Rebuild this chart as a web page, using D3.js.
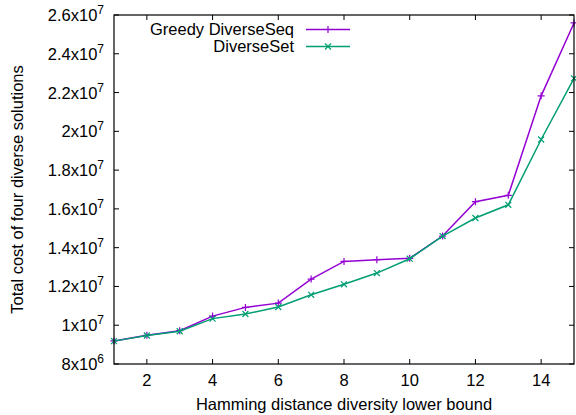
<!DOCTYPE html>
<html>
<head>
<meta charset="utf-8">
<script src="https://cdn.jsdelivr.net/npm/d3@7"></script>
<style>
  body { margin: 0; background: #fff; }
  text { font-family: "Liberation Sans", Arial, sans-serif; fill: #000; }
</style>
</head>
<body>
<div id="chart"></div>
<script>
const bounds = [1, 2, 3, 4, 5, 6, 7, 8, 9, 10, 11, 12, 13, 14, 15];
const greedySeq = [9.19e6, 9.48e6, 9.72e6, 1.047e7, 1.092e7, 1.114e7, 1.238e7, 1.329e7, 1.338e7, 1.345e7, 1.46e7, 1.637e7, 1.670e7, 2.183e7, 2.559e7];
const diverseSet = [9.18e6, 9.47e6, 9.69e6, 1.034e7, 1.058e7, 1.094e7, 1.157e7, 1.211e7, 1.269e7, 1.343e7, 1.46e7, 1.553e7, 1.621e7, 1.958e7, 2.273e7];
const xTicks = [2, 4, 6, 8, 10, 12, 14];
const yTicks = [8e6, 1e7, 1.2e7, 1.4e7, 1.6e7, 1.8e7, 2e7, 2.2e7, 2.4e7, 2.6e7];

const series = [
  { name: "Greedy DiverseSeq", values: greedySeq, color: "#9400d3", marker: "plus" },
  { name: "DiverseSet", values: diverseSet, color: "#009e73", marker: "cross" }
];

const W = 576, H = 415;
const margin = { top: 15, right: 2, bottom: 51, left: 114 };
const fs = 16.5;

const svg = d3.select("#chart").append("svg")
  .attr("width", W).attr("height", H);

const x = d3.scaleLinear().domain([1, 15]).range([margin.left, W - margin.right]);
const y = d3.scaleLinear().domain([8e6, 2.6e7]).range([H - margin.bottom, margin.top]);

// ticks, mirrored on all four sides, pointing inward
const tl = 5;
const tickG = svg.append("g").attr("stroke", "#000").attr("stroke-width", 1);
xTicks.forEach(t => {
  tickG.append("line").attr("x1", x(t)).attr("x2", x(t)).attr("y1", y.range()[0]).attr("y2", y.range()[0] - tl);
  tickG.append("line").attr("x1", x(t)).attr("x2", x(t)).attr("y1", y.range()[1]).attr("y2", y.range()[1] + tl);
});
yTicks.forEach(t => {
  tickG.append("line").attr("x1", x.range()[0]).attr("x2", x.range()[0] + tl).attr("y1", y(t)).attr("y2", y(t));
  tickG.append("line").attr("x1", x.range()[1]).attr("x2", x.range()[1] - tl).attr("y1", y(t)).attr("y2", y(t));
});

// tick labels
svg.append("g").selectAll("text").data(xTicks).join("text")
  .attr("x", d => x(d)).attr("y", y.range()[0] + 22)
  .attr("text-anchor", "middle").attr("font-size", fs)
  .text(d => d);

function sci(v) {
  const e = Math.floor(Math.log10(v));
  const m = +(v / Math.pow(10, e)).toFixed(1);
  return [m + "x10", String(e)];
}
const yl = svg.append("g").selectAll("text").data(yTicks).join("text")
  .attr("x", x.range()[0] - 10).attr("y", d => y(d) + 6)
  .attr("text-anchor", "end").attr("font-size", fs);
yl.append("tspan").text(d => sci(d)[0]);
yl.append("tspan").attr("dy", -7).attr("font-size", 12).text(d => sci(d)[1]);

// axis titles
svg.append("text")
  .attr("x", (x.range()[0] + x.range()[1]) / 2).attr("y", 410)
  .attr("text-anchor", "middle").attr("font-size", fs)
  .text("Hamming distance diversity lower bound");
svg.append("text")
  .attr("transform", `translate(22.5,${(y.range()[0] + y.range()[1]) / 2}) rotate(-90)`)
  .attr("text-anchor", "middle").attr("font-size", fs)
  .text("Total cost of four diverse solutions");

// lines and markers
const line = d3.line().x((d, i) => x(bounds[i])).y(d => y(d));
const ms = 3.5;
function marker(g, type, px, py, color) {
  if (type === "plus") {
    g.append("path").attr("d", `M${px - ms},${py}H${px + ms}M${px},${py - ms}V${py + ms}`)
      .attr("stroke", color).attr("stroke-width", 1.2);
  } else {
    const m = ms * 0.85;
    g.append("path").attr("d", `M${px - m},${py - m}L${px + m},${py + m}M${px - m},${py + m}L${px + m},${py - m}`)
      .attr("stroke", color).attr("stroke-width", 1.2);
  }
}

series.forEach((s, k) => {
  const g = svg.append("g");
  g.append("path").datum(s.values)
    .attr("fill", "none").attr("stroke", s.color).attr("stroke-width", 1.5)
    .attr("d", line);
  s.values.forEach((v, i) => marker(g, s.marker, x(bounds[i]), y(v), s.color));

  // legend entry
  const ly = 29.5 + k * 17;
  svg.append("text").attr("x", 294).attr("y", ly + 5.5)
    .attr("text-anchor", "end").attr("font-size", fs).text(s.name);
  svg.append("line").attr("x1", 306).attr("x2", 350).attr("y1", ly).attr("y2", ly)
    .attr("stroke", s.color).attr("stroke-width", 1.5);
  marker(svg, s.marker, 328, ly, s.color);
});

// border
svg.append("rect")
  .attr("x", x.range()[0]).attr("y", y.range()[1])
  .attr("width", x.range()[1] - x.range()[0]).attr("height", y.range()[0] - y.range()[1])
  .attr("fill", "none").attr("stroke", "#000").attr("stroke-width", 1.2);
</script>
</body>
</html>
